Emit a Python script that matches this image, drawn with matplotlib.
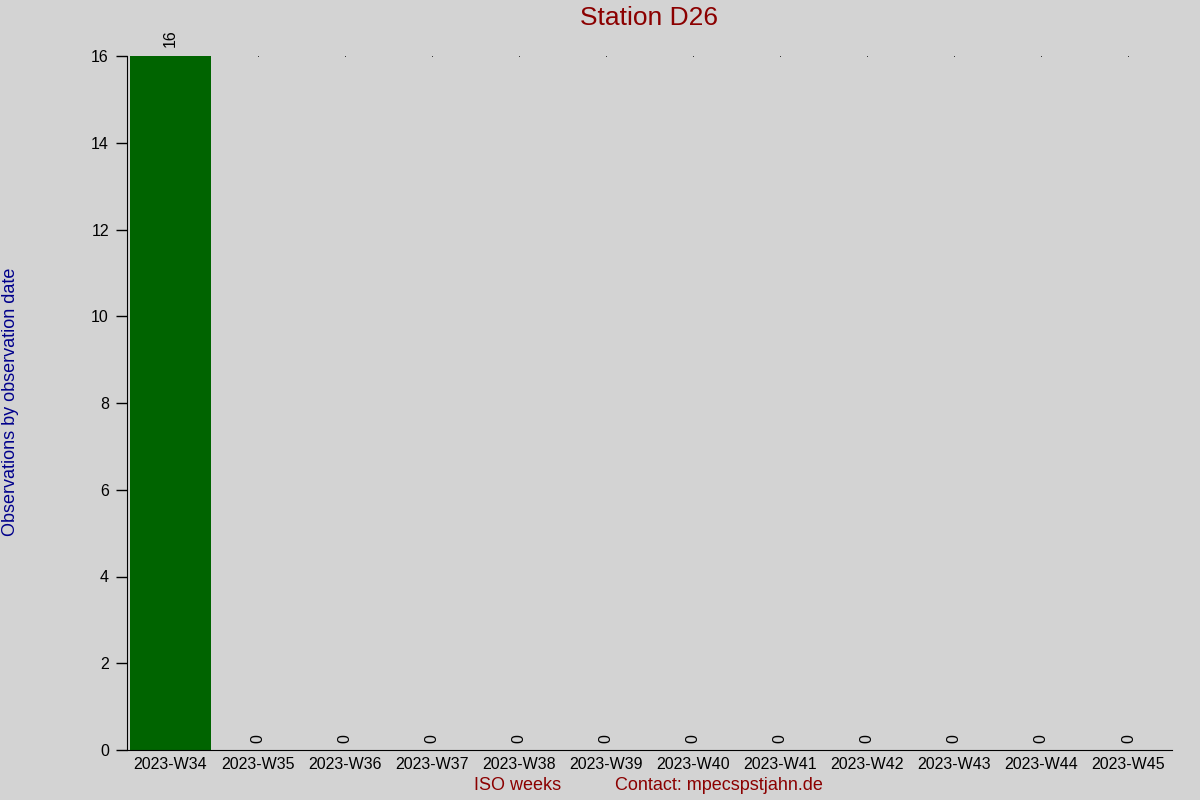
import numpy as np
import matplotlib.pyplot as plt

plt.rcParams['font.family'] = ['Liberation Sans', 'DejaVu Sans']

weeks = ['2023-W34', '2023-W35', '2023-W36', '2023-W37', '2023-W38', '2023-W39',
         '2023-W40', '2023-W41', '2023-W42', '2023-W43', '2023-W44', '2023-W45']
counts = [16, 0, 0, 0, 0, 0, 0, 0, 0, 0, 0, 0]
yticks = [0, 2, 4, 6, 8, 10, 12, 14, 16]

bg = '#d3d3d3'
fig = plt.figure(figsize=(12, 8), dpi=100, facecolor=bg)
ax = fig.add_axes([127/1200, 50/800, (1172-127)/1200, (750-56)/800])
ax.set_facecolor(bg)

x = np.arange(len(weeks))
ax.bar(x, counts, width=0.92, color='#006400')
# tiny dots on the top line
ax.plot(x[1:], [16]*(len(x)-1), ls='none', marker='s', ms=0.5, mew=0, color='black')

for xi, c in zip(x, counts):
    off = 0.2 if c > 0 else 0.15
    ax.text(xi, c + off, str(c), rotation=90, ha='center', va='bottom',
            fontsize=11.5, color='black', clip_on=False)

ax.set_xlim(-0.5, len(weeks) - 0.5)
ax.set_ylim(0, 16)
ax.set_xticks(x)
ax.set_xticklabels(weeks, fontsize=11.5)
ax.set_yticks(yticks)
ax.set_yticklabels([str(t) for t in yticks], fontsize=11.5)
ax.tick_params(axis='x', length=0, pad=5)
ax.tick_params(axis='y', length=8, width=1, direction='out', pad=5)
ax.spines['top'].set_visible(False)
ax.spines['right'].set_visible(False)

fig.text(649/1200, 1 - 18/800, 'Station D26', ha='center', va='center',
         color='#8b0000', fontsize=19)
fig.text(11/1200, 1 - 402/800, 'Observations by observation date', rotation=90,
         ha='center', va='center', fontsize=13, color='#00008b')
fig.text(518/1200, 1 - 786/800, 'ISO weeks', ha='center', va='center',
         fontsize=13, color='#8b0000')
fig.text(719/1200, 1 - 786/800, 'Contact: mpecspstjahn.de', ha='center', va='center',
         fontsize=13, color='#8b0000')

fig.savefig('out.png', dpi=100, facecolor=bg)
